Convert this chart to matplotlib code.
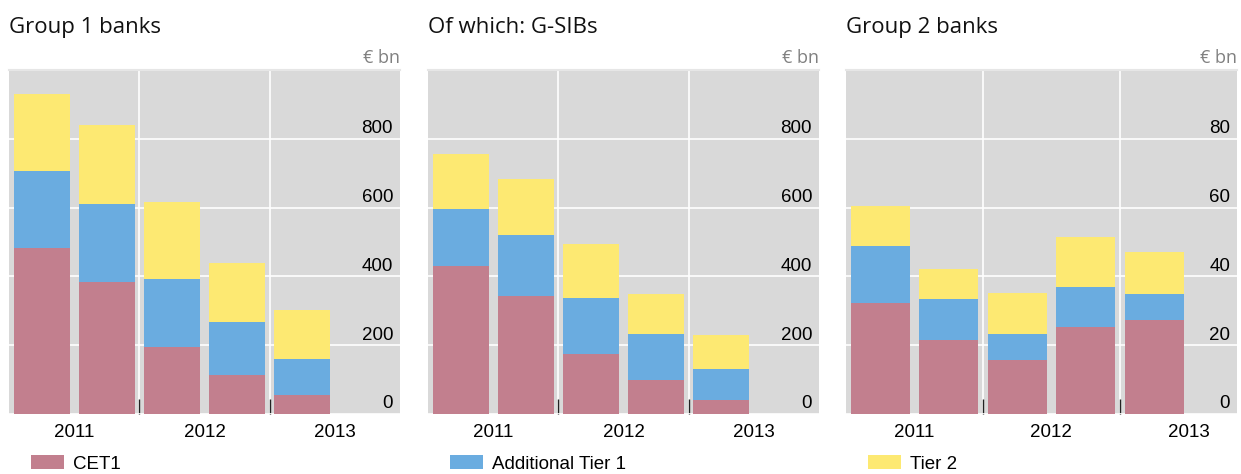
import numpy as np
import matplotlib
matplotlib.use("Agg")
import matplotlib.pyplot as plt
from matplotlib.transforms import ScaledTranslation

plt.rcParams['font.family'] = ['Liberation Sans', 'DejaVu Sans']

# data (EUR bn), half-yearly observations
periods = ['2011 H1', '2011 H2', '2012 H1', '2012 H2', '2013 H1']
years = ['2011', '2012', '2013']
series = ['CET1', 'Additional Tier 1', 'Tier 2']

g1_cet1 = [484, 384, 195, 113, 55]
g1_at1 = [223, 227, 198, 155, 105]
g1_t2 = [224, 230, 224, 170, 143]

gsib_cet1 = [431, 344, 175, 100, 42]
gsib_at1 = [165, 177, 163, 134, 89]
gsib_t2 = [160, 162, 157, 115, 99]

g2_cet1 = [32.3, 21.6, 15.8, 25.3, 27.3]
g2_at1 = [16.6, 11.9, 7.5, 11.6, 7.6]
g2_t2 = [11.6, 8.7, 11.8, 14.6, 12.2]

titles = ['Group 1 banks', 'Of which: G-SIBs', 'Group 2 banks']
panels = [(g1_cet1, g1_at1, g1_t2), (gsib_cet1, gsib_at1, gsib_t2), (g2_cet1, g2_at1, g2_t2)]
yticks = [[0, 200, 400, 600, 800], [0, 200, 400, 600, 800], [0, 20, 40, 60, 80]]
ymax = [1000, 1000, 100]
xmax = [6, 6, 5.71]

colors = ['#c27f8e', '#6aace0', '#fde972']

W, H = 1241, 474
fig = plt.figure(figsize=(W / 100, H / 100), dpi=100)
lefts = [9, 428, 846]
x = np.arange(len(periods)) + 0.5

for i in range(3):
    ax = fig.add_axes([lefts[i] / W, (H - 414) / H, 391 / W, 344 / H])
    ax.set_facecolor('#d9d9d9')
    ax.set_axisbelow(True)

    bottom = np.zeros(len(periods))
    conts = []
    for vals, c, name in zip(panels[i], colors, series):
        b = ax.bar(x, vals, width=0.86, bottom=bottom, color=c, label=name)
        bottom += np.array(vals)
        conts.append(b)

    ax.set_xlim(0, xmax[i])
    ax.set_ylim(0, ymax[i])

    # x axis: year boundaries as major ticks, year labels on minor ticks
    ax.set_xticks([2, 4])
    ax.set_xticklabels([])
    ax.set_xticks([1, 3, 5], minor=True)
    ax.set_xticklabels(years, minor=True, fontsize=13.5)
    ax.tick_params(axis='x', which='major', direction='in', length=11, width=1, color='#222222')
    ax.tick_params(axis='x', which='minor', length=0, pad=7)

    # y axis labels inside on the right, above gridlines
    ax.yaxis.tick_right()
    ax.set_yticks(yticks[i])
    ax.tick_params(axis='y', length=0, pad=-5, labelsize=13.5)
    for lbl in ax.get_yticklabels():
        lbl.set_horizontalalignment('right')
        lbl.set_verticalalignment('baseline')
        lbl.set_transform(lbl.get_transform() + ScaledTranslation(0, 0.057, fig.dpi_scale_trans))

    ax.grid(True, which='major', color='white', linewidth=1.2)

    for s in ['left', 'right', 'bottom']:
        ax.spines[s].set_visible(False)
    ax.spines['top'].set_color('#e6e6e6')
    ax.spines['top'].set_linewidth(1.5)

    ax.text(0, 1 + 37 / 344, titles[i], transform=ax.transAxes, ha='left', va='baseline',
            fontsize=16, family='Open Sans', color='#111111')
    ax.text(1, 1 + 7 / 344, '€ bn', transform=ax.transAxes, ha='right', va='baseline',
            fontsize=13, family='Open Sans', color='#808080')

    ax.legend([conts[i]], [series[i]], loc='center left', bbox_to_anchor=(22 / 391, -50 / 344),
              frameon=False, fontsize=13.5, borderpad=0, borderaxespad=0,
              handlelength=1.75, handleheight=0.72, handletextpad=0.5)

fig.savefig('out.png', dpi=100)
